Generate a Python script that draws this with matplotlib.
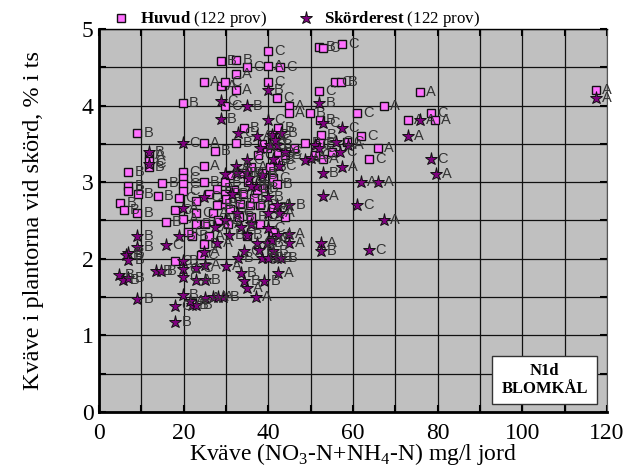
import matplotlib
matplotlib.use("Agg")
import matplotlib.pyplot as plt
from matplotlib.patches import Rectangle

plt.rcParams["font.family"] = ["Liberation Serif", "DejaVu Serif"]
plt.rcParams["mathtext.fontset"] = "custom"
plt.rcParams["mathtext.rm"] = "Liberation Serif"
plt.rcParams["mathtext.bf"] = "Liberation Serif:bold"

# huvud
huvud_x = [39.9, 28.8, 32.4, 34.9, 39.9, 42.8, 32.4, 24.8, 28.8, 29.8, 32.4, 39.9, 42.1, 44.9, 44.9, 49.8,
           52, 52, 52.9, 57.4, 55.8, 57.2, 19.8, 29.8, 9, 34.2, 60.9, 24.8, 27.4, 32.4, 24.8, 6.9,
           6.9, 6.9, 9.2, 14.9, 13.9, 5, 5.8, 9, 19.8, 19.8, 19.8, 19.8, 18.9, 24.8, 29.8, 27.9,
           29.8, 75.8, 67.3, 78.4, 73, 79.4, 61.9, 65.9, 63.8, 117.4, 15.8, 18, 19.8, 24.8, 18, 22.9,
           25, 22.9, 26.9, 29, 33.3, 35.7, 38, 41, 39.7, 42.3, 42.3, 42.3, 40.4, 33.8, 38.5, 35.2,
           38.7, 37.3, 30, 27.9, 48.7, 52.4, 52.2, 58.6, 52.9, 51, 52.2, 11.8, 11.8, 11.8, 40.9, 41,
           42, 36.5, 34, 31, 33, 28, 30.5, 36, 38, 26, 22, 24, 21, 31, 36, 37.5,
           44, 23, 26, 38.5, 46, 55, 44, 41, 35, 32]
huvud_y = [4.71, 4.58, 4.6, 4.51, 4.52, 4.5, 4.41, 4.31, 4.26, 4.31, 4.21, 4.31, 4.1, 4.0, 3.9, 3.9,
           4.19, 4.76, 4.75, 4.8, 4.31, 4.31, 4.03, 4.0, 3.64, 3.71, 3.9, 3.51, 3.41, 3.51, 3.21, 3.13,
           2.95, 2.89, 2.85, 2.99, 2.82, 2.73, 2.64, 2.6, 3.13, 3.05, 2.98, 2.89, 2.79, 3.0, 3.0, 2.91,
           2.85, 4.18, 4.0, 3.9, 3.81, 3.81, 3.6, 3.44, 3.3, 4.2, 2.48, 2.64, 2.52, 2.19, 1.97, 2.45,
           2.46, 2.6, 2.6, 2.72, 2.72, 2.7, 2.7, 2.66, 3.45, 3.71, 3.38, 3.29, 3.2, 3.12, 3.12, 3.0,
           2.92, 2.9, 2.78, 2.7, 3.51, 3.62, 3.81, 3.53, 3.3, 3.35, 3.51, 3.35, 3.28, 3.2, 3.62, 3.05,
           2.98, 2.8, 2.85, 2.65, 2.55, 2.5, 2.45, 2.55, 2.45, 2.3, 2.3, 2.05, 2.35, 3.1, 3.2, 3.35,
           3.35, 2.75, 2.85, 3.5, 3.45, 3.4, 2.55, 2.35, 2.3, 2.9]
huvud_lab = list("CBBCACAAACACCAABCBCCCBBCBBCABBABBBBBBBBBCCCCCBBB"
                 "BAACAACACABCABCBCCABBBCBCBBBBBBCBCBBBBBCACBACBCC"
                 "BBCBBAABCABCCAACB")[:122]

# skörderest
rest_x = [117.4, 75.8, 73, 78.4, 79.6, 61.9, 65.9, 60.9, 67.3, 63.8, 52, 52.9, 57.4, 51, 52, 56,
          56.9, 58.8, 50, 48.7, 57.4, 52.9, 52.9, 52.4, 52.4, 39.9, 28.8, 34.9, 28.8, 39.9, 43, 32.8,
          37.3, 40.9, 40.4, 42, 19.8, 11.8, 11.8, 34.9, 32.4, 29.8, 34.9, 32.6, 42.5, 37, 24.8, 42,
          39.9, 19.8, 9, 9, 6.9, 6.4, 6.9, 4.7, 5.7, 6.9, 9, 18.9, 15.8, 24.8, 27.9, 19.8,
          19.8, 19.8, 22.9, 25, 22.9, 25, 13.5, 14.6, 19.8, 18, 18, 22, 23, 25, 26.9, 29.3,
          37, 34.9, 34.3, 33.5, 39, 42.3, 30, 32.8, 34.3, 38.5, 39.9, 42, 37.8, 37.3, 39.7, 40.9,
          44.9, 44.9, 42.3, 39.9, 34.9, 30.7, 33.5, 27.4, 29.8, 32.6, 39.9, 42.5, 44.9, 21.5, 28, 41,
          43, 36, 38.5, 41, 38, 44, 41.5, 35.5, 31.5, 36]
rest_y = [4.1, 3.81, 3.6, 3.3, 3.11, 3.0, 3.0, 2.7, 2.5, 2.11, 4.03, 3.77, 3.71, 3.49, 3.45, 3.52,
          3.39, 3.49, 3.31, 3.29, 3.2, 3.12, 2.82, 2.2, 2.1, 4.21, 4.06, 4.0, 3.83, 3.81, 3.64, 3.64,
          3.6, 3.62, 3.49, 3.49, 3.51, 3.39, 3.24, 3.29, 3.21, 3.11, 3.12, 3.12, 3.21, 2.95, 2.81, 2.7,
          2.81, 2.66, 2.3, 2.16, 2.07, 2.05, 1.98, 1.79, 1.72, 1.75, 1.47, 2.3, 2.18, 2.09, 2.21, 1.97,
          1.87, 1.76, 1.88, 1.92, 1.72, 1.72, 1.84, 1.84, 1.53, 1.38, 1.17, 1.4, 1.4, 1.49, 1.5, 1.5,
          1.5, 1.62, 1.71, 1.81, 1.71, 1.81, 1.91, 2.01, 2.1, 2.01, 2.01, 2.01, 2.11, 2.21, 2.21, 2.25,
          2.21, 2.33, 2.31, 2.4, 2.31, 2.31, 2.41, 2.41, 2.51, 2.6, 2.6, 2.6, 2.7, 1.45, 1.5, 2.1,
          2.01, 2.95, 3.1, 3.3, 3.45, 3.4, 3.55, 3.05, 2.85, 2.45]
rest_lab = list("AAACAAACACBCCCCCCAAAABAABBCBBCBCACCBCBCCAABBCBCAB"
                "ABBBBBBBBBBCAABCCCAABBBBCBBBAABAABBBAABCCBBBCBAA"
                "AACBBBABCCABAABBBBCACCCB")[:122]

x_ticks = [0, 20, 40, 60, 80, 100, 120]
y_ticks = [0, 1, 2, 3, 4, 5]

fig = plt.figure(figsize=(6.35, 4.72), dpi=100)
ax = fig.add_axes([99 / 635, 1 - 412 / 472, 508 / 635, 383 / 472])
ax.set_facecolor("#c0c0c0")
ax.set_xlim(0, 120)
ax.set_ylim(0, 5)

ax.set_xticks(x_ticks)
ax.set_yticks(y_ticks)
ax.set_xticks(range(0, 121, 10), minor=True)
ax.set_yticks([i / 2 for i in range(11)], minor=True)
ax.grid(which="both", color="#111111", lw=0.9)
ax.set_axisbelow(True)
ax.tick_params(which="both", direction="in", length=5, width=1.5, right=True, top=True, labelsize=17)
ax.tick_params(axis="x", pad=8)
ax.tick_params(axis="y", pad=4)
for side in ["left", "bottom"]:
    ax.spines[side].set_linewidth(2)
ax.spines["right"].set_color("#555555")
ax.spines["top"].set_linewidth(1)

h1, = ax.plot(huvud_x, huvud_y, ls="none", marker="s", ms=5.6, mfc="#ff70ff", mec="#111111", mew=1, zorder=3,
              clip_on=False, label=r"$\mathbf{Huvud}$ (122 prov)")
for x, y, s in zip(huvud_x, huvud_y, huvud_lab):
    ax.annotate(s, (x, y), xytext=(4.5, 0), textcoords="offset points", va="center", fontsize=10.5,
                family="Liberation Sans", color="#333333", zorder=3.1, annotation_clip=False)

h2, = ax.plot(rest_x, rest_y, ls="none", marker="*", ms=9.5, mfc="#800080", mec="#111111", mew=0.7, zorder=4,
              clip_on=False, label=r"$\mathbf{Skörderest}$ (122 prov)")
for x, y, s in zip(rest_x, rest_y, rest_lab):
    ax.annotate(s, (x, y), xytext=(4.5, 0), textcoords="offset points", va="center", fontsize=10.5,
                family="Liberation Sans", color="#333333", zorder=4.1, annotation_clip=False)

ax.set_xlabel(r"Kväve (NO$_{3}$-N+NH$_{4}$-N) mg/l jord", fontsize=17, labelpad=-2)
ax.set_ylabel("Kväve i plantorna vid skörd, % i ts", fontsize=17.5, labelpad=27)

fig.legend(handles=[h1, h2], loc="upper left", bbox_to_anchor=(100 / 635, 1 - 1 / 472), ncols=2, frameon=False,
           fontsize=12.2, handletextpad=0.35, columnspacing=1.55, borderpad=0, handlelength=1.5)

ax.add_patch(Rectangle((92.9, 0.1), 24.8, 0.63, fc="white", ec="#333333", lw=1, zorder=5))
ax.text(105.3, 0.415, "N1d\nBLOMKÅL", ha="center", va="center", fontsize=12, fontweight="bold", zorder=6,
        linespacing=1.2)

fig.savefig("out.png", dpi=100)
